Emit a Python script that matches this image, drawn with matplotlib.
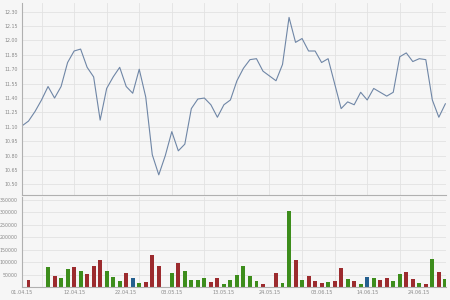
import numpy as np
import matplotlib
matplotlib.use("Agg")
import matplotlib.pyplot as plt
from matplotlib.ticker import FixedLocator

# ──────────────────────────────────────────────────────────────
# Datos (un punto por sesion, 01.04.15 - 01.07.15)
# ──────────────────────────────────────────────────────────────
precio = [
    11.11, 11.16, 11.26, 11.38, 11.52, 11.40, 11.52, 11.77, 11.89, 11.91,
    11.72, 11.62, 11.17, 11.50, 11.62, 11.72, 11.52, 11.45, 11.70, 11.41,
    10.81, 10.60, 10.80, 11.05, 10.85, 10.92, 11.29, 11.39, 11.40, 11.33,
    11.20, 11.33, 11.38, 11.58, 11.71, 11.80, 11.81, 11.68, 11.63, 11.58,
    11.75, 12.24, 11.98, 12.02, 11.89, 11.89, 11.77, 11.81, 11.55, 11.29,
    11.36, 11.33, 11.46, 11.38, 11.50, 11.46, 11.42, 11.46, 11.83, 11.87,
    11.78, 11.81, 11.80, 11.38, 11.20, 11.34,
]

volumen = [
    0, 29000, 0, 0, 83000, 45000, 39000, 75000, 81000, 65000,
    53000, 87000, 111000, 65000, 41000, 27000, 57000, 36000, 16000, 21000,
    128000, 85000, 0, 57000, 99000, 65000, 29000, 29000, 36000, 21000,
    36000, 12000, 29000, 49000, 85000, 47000, 27000, 15000, 0, 57000,
    17000, 305000, 111000, 29000, 47000, 27000, 17000, 21000, 24000, 79000,
    35000, 24000, 15000, 41000, 39000, 29000, 36000, 25000, 55000, 60000,
    33000, 19000, 12000, 113000, 63000, 35000,
]

# g = sube, r = baja, b = sin cambio  (10 sesiones por fila)
direccion = list(
    "rrrrgrggrg"
    "rrrgggrbgr"
    "rrrgrggggr"
    "rggggggrrr"
    "ggrgrrrgrr"
    "grgbgrrggr"
    "rgrgrg"
)

fechas_eje = ["01.04.15", "12.04.15", "22.04.15", "03.05.15", "13.05.15",
              "24.05.15", "03.06.15", "14.06.15", "24.06.15"]
sesion_eje = [0, 8, 16, 23, 31, 38, 46, 53, 61]

COLORES = {"g": "#3d8d1c", "r": "#9c2b2e", "b": "#245f8e"}
FONDO = "#f6f6f6"
REJILLA = "#e2e2e2"
TEXTO = "#8a8a8a"

x = np.arange(len(precio))

fig = plt.figure(figsize=(4.5, 3), dpi=100, facecolor=FONDO)
ax_p = fig.add_axes([22 / 450, 105 / 300, 424 / 450, 192 / 300], facecolor=FONDO)
ax_v = fig.add_axes([22 / 450, 12.7 / 300, 424 / 450, 90.3 / 300], facecolor=FONDO)


def estilo(ax):
    for lado in ("top", "right"):
        ax.spines[lado].set_visible(False)
    for lado in ("left", "bottom"):
        ax.spines[lado].set_color("#b0b0b0")
        ax.spines[lado].set_linewidth(0.8)
    ax.set_xlim(0, 65.1)
    ax.xaxis.set_minor_locator(FixedLocator(np.arange(3, 66, 5)))
    ax.grid(which="minor", axis="x", color=REJILLA, linewidth=0.6)
    ax.grid(which="major", axis="y", color=REJILLA, linewidth=0.6)
    ax.set_axisbelow(True)
    ax.tick_params(axis="y", labelsize=3.4, colors=TEXTO, length=0, pad=3)
    ax.tick_params(axis="x", which="both", length=0)


# ── Precio ──
estilo(ax_p)
ax_p.plot(x, precio, color="#6f86a6", linewidth=0.8)
ax_p.set_ylim(10.39, 12.39)
ax_p.yaxis.set_major_locator(FixedLocator(np.round(np.arange(10.50, 12.31, 0.15), 2)))
ax_p.yaxis.set_major_formatter(plt.FuncFormatter(lambda v, p: f"{v:.2f}"))
ax_p.set_xticks([])

# ── Volumen ──
estilo(ax_v)
ax_v.bar(x, volumen, width=0.6, color=[COLORES[d] for d in direccion])
ax_v.set_ylim(0, 362000)
ax_v.yaxis.set_major_locator(FixedLocator(np.arange(50000, 350001, 50000)))
ax_v.yaxis.set_major_formatter(plt.FuncFormatter(lambda v, p: f"{int(v)}"))
ax_v.set_xticks(sesion_eje)
ax_v.set_xticklabels(fechas_eje)
ax_v.tick_params(axis="x", labelsize=3.6, colors=TEXTO, pad=2)

fig.savefig("out.png", dpi=100, facecolor=FONDO)
